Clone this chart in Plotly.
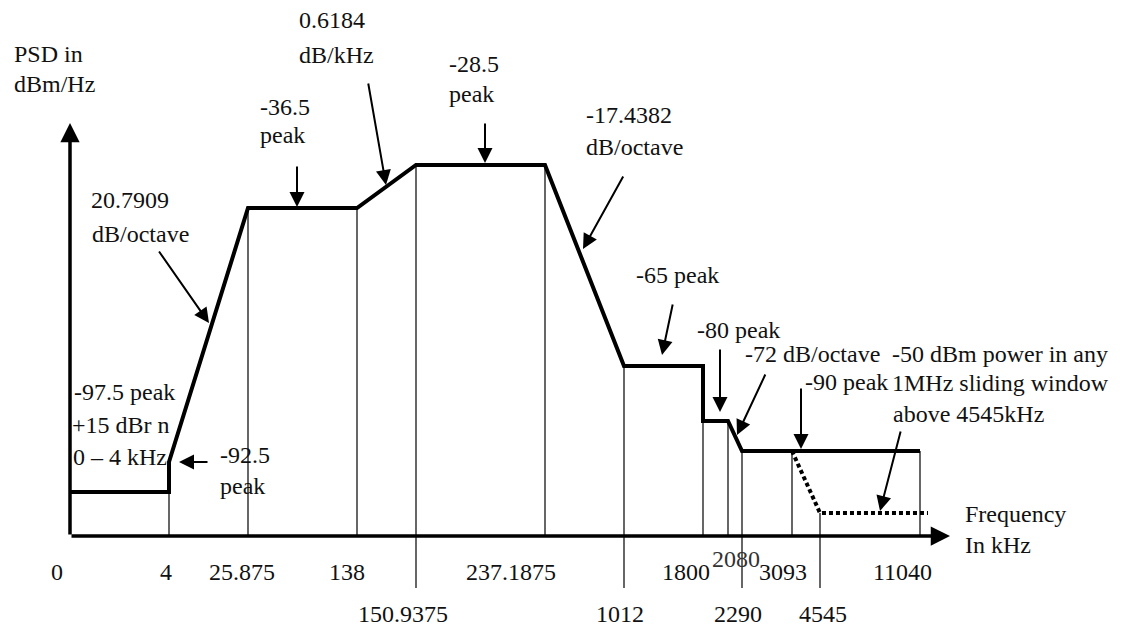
import plotly.graph_objects as go

# ---------------- data ----------------
# breakpoint frequencies (kHz) used as tick labels
tick_row1 = ["0", "4", "25.875", "138", "237.1875", "1800", "3093", "11040"]
tick_row2 = ["150.9375", "1012", "2290", "4545"]
tick_raised = ["2080"]

# PSD mask vertices (frequency label, level in dBm/Hz)
mask_freq = ["0", "4", "4", "25.875", "138", "150.9375", "237.1875",
             "1012", "1800", "1800", "2080", "2290", "11040"]
mask_psd = [-97.5, -97.5, -92.5, -36.5, -36.5, -28.5, -28.5,
            -65, -65, -80, -80, -90, -90]

# sliding-window (-50 dBm in any 1 MHz) dotted segment
window_freq = ["3093", "4545", "11040+"]
window_psd = [-90, "window", "window"]

# thin guide lines at each breakpoint, up to the mask level
guide_freq = ["4", "25.875", "138", "150.9375", "237.1875", "1012",
              "1800", "2080", "2290", "3093", "4545", "11040"]
guide_top = [-97.5, -36.5, -36.5, -28.5, -28.5, -65,
             -80, -80, -90, -90, "window", -90]

# ---------------- schematic layout (not to scale) ----------------
X_POS = {"0": 0, "4": 99, "25.875": 178, "138": 287, "150.9375": 346,
         "237.1875": 475, "1012": 554, "1800": 633, "2080": 658,
         "2290": 672, "3093": 722, "4545": 750, "11040": 850, "11040+": 858}
Y_POS = {-97.5: 44, -92.5: 74, -36.5: 328, -28.5: 371, -65: 170,
         -80: 115, -90: 85, "window": 23}
BELOW = -52  # guides of second-row labels reach down to this level

OX, OY = 70, 536          # pixel position of the origin
def gx(px): return px - OX
def gy(py): return OY - py

FONT = "Liberation Serif"
FS = 24
INK = "#111111"

fig = go.Figure()

# thin guide lines
for f, top in zip(guide_freq, guide_top):
    bottom = BELOW if f in tick_row2 else 0
    fig.add_trace(go.Scatter(x=[X_POS[f], X_POS[f]], y=[bottom, Y_POS[top]],
                             mode="lines", line=dict(color="black", width=1.2),
                             hoverinfo="skip", showlegend=False))

# PSD mask
fig.add_trace(go.Scatter(x=[X_POS[f] for f in mask_freq],
                         y=[Y_POS[v] for v in mask_psd],
                         mode="lines", line=dict(color="black", width=4),
                         hoverinfo="skip", showlegend=False))

# sliding window dotted line
fig.add_trace(go.Scatter(x=[X_POS[f] for f in window_freq],
                         y=[Y_POS[v] for v in window_psd],
                         mode="lines",
                         line=dict(color="black", width=4, dash="4px,3px"),
                         hoverinfo="skip", showlegend=False))

ann = []

# axes drawn as arrows
ann.append(dict(x=gx(950), y=0, ax=0, ay=0, xref="x", yref="y", axref="x", ayref="y",
                showarrow=True, arrowhead=2, arrowsize=1.1, arrowwidth=3.5,
                arrowcolor="black", text=""))
ann.append(dict(x=0, y=gy(123), ax=0, ay=0, xref="x", yref="y", axref="x", ayref="y",
                showarrow=True, arrowhead=2, arrowsize=1.1, arrowwidth=3.5,
                arrowcolor="black", text=""))

def text(t, px, py, anchor="left", size=FS, color=INK):
    ann.append(dict(x=gx(px), y=gy(py), xref="x", yref="y", text=t,
                    showarrow=False, xanchor=anchor, yanchor="middle",
                    font=dict(family=FONT, size=size, color=color)))

def arrow(tail, tip):
    ann.append(dict(x=gx(tip[0]), y=gy(tip[1]), ax=gx(tail[0]), ay=gy(tail[1]),
                    xref="x", yref="y", axref="x", ayref="y", text="",
                    showarrow=True, arrowhead=2, arrowsize=1.5, arrowwidth=2,
                    arrowcolor="black", standoff=0))

# tick labels
row1_px = {"0": 57, "4": 166, "25.875": 242, "138": 347, "237.1875": 511,
           "1800": 686, "3093": 783, "11040": 902}
for t in tick_row1:
    text(t, row1_px[t], 572, anchor="center")
row2_px = {"150.9375": 403, "1012": 620, "2290": 738, "4545": 823}
for t in tick_row2:
    text(t, row2_px[t], 614, anchor="center")
for t in tick_raised:
    text(t, 736, 559, anchor="center", color="#333333")

# axis titles
text("PSD in", 12, 54)
text("dBm/Hz", 12, 84)
text("Frequency", 963, 514)
text("In kHz", 963, 545)

# callouts
text("0.6184", 297, 20); text("dB/kHz", 297, 55)
arrow((368, 82), (386, 185))
text("-36.5", 258, 107); text("peak", 258, 135)
arrow((297, 165), (297, 207))
text("-28.5", 447, 64); text("peak", 447, 94)
arrow((485, 122), (485, 163))
text("-17.4382", 584, 115); text("dB/octave", 584, 147)
arrow((624, 175), (583, 249))
text("20.7909", 89, 200); text("dB/octave", 90, 234)
arrow((158, 250), (209, 323))
text("-97.5 peak", 72, 392); text("+15 dBr n", 70, 425); text("0 \u2013 4 kHz", 71, 457)
text("-92.5", 218, 455); text("peak", 218, 486)
arrow((209, 462), (179, 462))
text("-65 peak", 634, 275)
arrow((673, 303), (662, 355))
text("-80 peak", 695, 330)
arrow((720, 348), (720, 412))
text("-72 dB/octave", 743, 354)
arrow((766, 373), (737, 435))
text("-90 peak", 803, 382)
arrow((801, 387), (801, 449))
text("-50 dBm power in any", 890, 354)
text("1MHz sliding window", 890, 383)
text("above 4545kHz", 891, 414)
arrow((901, 430), (880, 511))

fig.update_layout(
    width=1122, height=628,
    margin=dict(l=0, r=0, t=0, b=0),
    paper_bgcolor="white", plot_bgcolor="white",
    font=dict(family=FONT, size=FS, color=INK),
    xaxis=dict(range=[gx(0), gx(1122)], visible=False, fixedrange=True),
    yaxis=dict(range=[gy(628), gy(0)], visible=False, fixedrange=True),
    annotations=ann,
    showlegend=False,
)

fig.write_html("out.html", config={"displayModeBar": False},
               post_script="document.body.style.margin='0';document.body.style.overflow='hidden';")
